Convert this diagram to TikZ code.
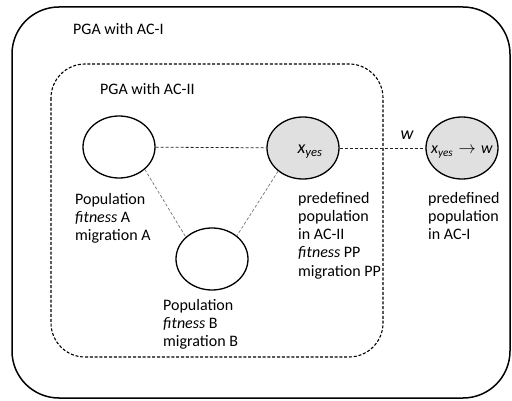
\documentclass[tikz,border=0pt]{standalone}
\usepackage{fontspec}
\setmainfont{Carlito}
\usetikzlibrary{shapes.geometric}
\begin{document}
\begin{tikzpicture}[x=1pt,y=-1pt,
  every node/.style={inner sep=0pt, font=\fontsize{16}{18.2}\selectfont},
  pop/.style={ellipse, draw, line width=1.3pt, minimum width=72pt, minimum height=62pt},
  pred/.style={pop, fill=black!12},
  blocktext/.style={align=left, anchor=north west},
  conn/.style={dashed, dash pattern=on 3pt off 2pt, line width=0.8pt, black!85},
  lightconn/.style={dashed, dash pattern=on 3pt off 2pt, line width=0.7pt, black!55}
]
\useasboundingbox (0,0) rectangle (512,401);
% outer frame
\draw[line width=1.5pt, rounded corners=47pt] (12,7) rectangle (510,398);
\node[anchor=base west] (lblI) at (73,34.5) {PGA with AC-I};
% inner dashed frame
\draw[line width=1.1pt, dash pattern=on 3pt off 1.8pt, rounded corners=34pt] (51,64) rectangle (383,357);
\node[anchor=base west] (lblII) at (100,95) {PGA with AC-II};
% populations
\node[pop] (A) at (119,147) {};
\node[pred] (P) at (303,148) {};
\node[pop] (B) at (212,259) {};
\node[pred] (R) at (462,148) {};
\node[font=\fontsize{18}{18}\selectfont] (xP) at (310,152) {\textit{x}\textsubscript{\textit{yes}}};
\node[font=\fontsize{16}{18}\selectfont] (xR) at (462,152) {\textit{x}\textsubscript{\textit{yes}}\,\,$\rightarrow$\,\,\textit{w}};
% connectors
\draw[conn] (A) -- (P);
\draw[lightconn] (A.-41) -- (B.140);
\draw[lightconn] (P.223) -- (B.43);
\draw[conn] (P) -- (R);
\node[font=\fontsize{18}{18}\selectfont\itshape] (w) at (407,135) {w};
% labels
\node[blocktext] (tA) at (75,193) {Population\\\textit{fitness} A\\migration A};
\node[blocktext] (tB) at (163,299) {Population\\\textit{fitness} B\\migration B};
\node[blocktext] (tP) at (298,192) {predefined\\population\\in AC-II\\\textit{fitness} PP\\migration PP};
\node[blocktext] (tR) at (428,192) {predefined\\population\\in AC-I};
\end{tikzpicture}
\end{document}
